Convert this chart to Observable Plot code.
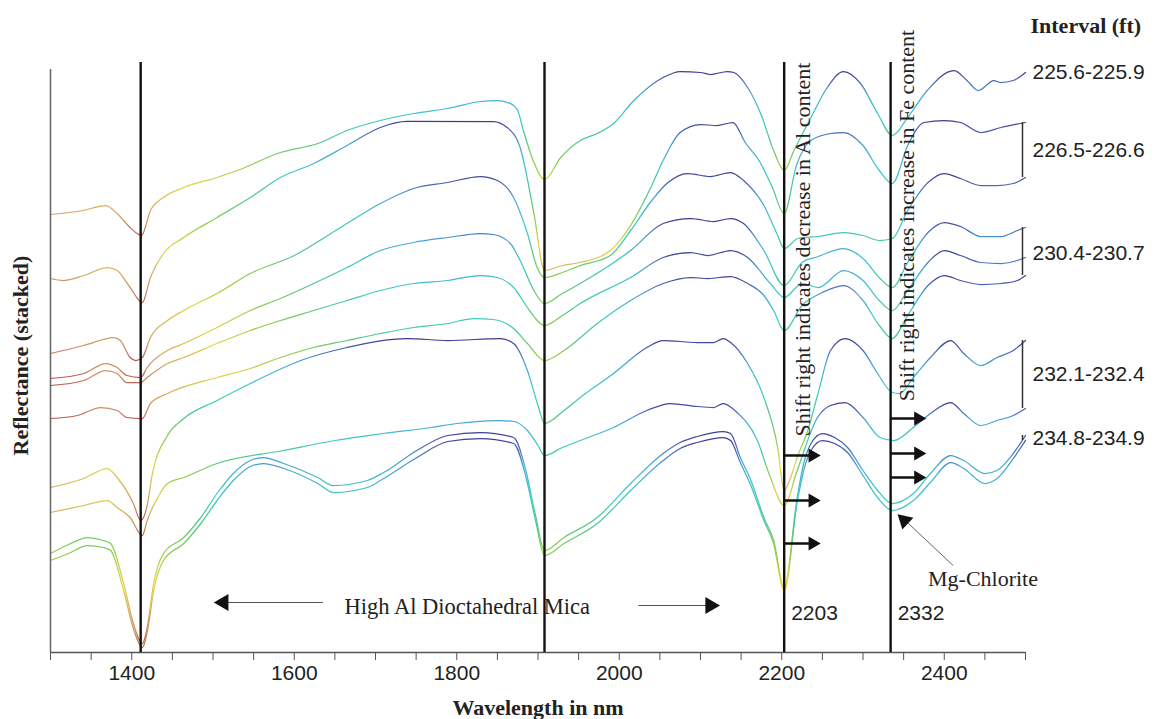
<!DOCTYPE html>
<html><head><meta charset="utf-8">
<script src="https://cdn.jsdelivr.net/npm/d3@7"></script>
<script src="https://cdn.jsdelivr.net/npm/@observablehq/plot@0.6"></script>
<style>body{margin:0;background:#fff}svg{display:block}</style>
</head><body><div id="chart"></div>
<script>
// ---- data: stacked reflectance spectra (wavelength nm, stacked reflectance) ----
const s225a = [[1300,.438],[1340,.442],[1368,.447],[1382,.439],[1398,.425],[1412,.417],[1423,.442],[1439,.455],[1464,.465],[1505,.475],[1530,.482],[1583,.500],[1629,.509],[1665,.522],[1706,.532],[1747,.539],[1789,.544],[1829,.551],[1850,.552],[1866,.549],[1875,.542],[1882,.522],[1894,.492],[1908,.473],[1928,.495],[1952,.512],[1973,.519],[1993,.529],[2018,.552],[2054,.575],[2075,.581],[2100,.580],[2112,.578],[2133,.581],[2141,.580],[2158,.565],[2175,.537],[2190,.502],[2203,.482],[2215,.502],[2236,.535],[2256,.565],[2276,.581],[2297,.569],[2318,.539],[2336,.517],[2355,.535],[2379,.562],[2412,.582],[2428,.572],[2442,.562],[2461,.572],[2469,.570],[2485,.572],[2500,.580]];
const s226a = [[1300,.374],[1316,.372],[1341,.377],[1370,.385],[1382,.382],[1398,.365],[1413,.350],[1423,.375],[1439,.399],[1464,.415],[1505,.435],[1546,.455],[1583,.475],[1624,.489],[1665,.507],[1706,.525],[1739,.531],[1845,.531],[1862,.525],[1878,.505],[1895,.439],[1908,.382],[1930,.387],[1952,.390],[1989,.402],[2014,.427],[2040,.467],[2054,.492],[2075,.520],[2100,.528],[2120,.527],[2140,.530],[2155,.510],[2172,.492],[2188,.466],[2203,.439],[2218,.487],[2236,.512],[2260,.519],[2276,.520],[2300,.507],[2320,.482],[2336,.469],[2355,.507],[2375,.530],[2400,.532],[2420,.530],[2445,.520],[2470,.525],[2500,.530]];
const s226b = [[1300,.299],[1341,.307],[1378,.315],[1386,.312],[1398,.295],[1405,.292],[1413,.295],[1423,.315],[1444,.332],[1464,.342],[1505,.359],[1546,.379],[1600,.397],[1657,.425],[1706,.449],[1747,.464],[1789,.470],[1829,.476],[1850,.472],[1870,.455],[1887,.419],[1899,.385],[1908,.375],[1930,.380],[1952,.387],[1989,.397],[2014,.422],[2040,.452],[2060,.470],[2084,.479],[2112,.476],[2137,.480],[2153,.472],[2178,.447],[2195,.417],[2203,.404],[2220,.414],[2245,.416],[2276,.420],[2300,.417],[2320,.412],[2336,.414],[2355,.442],[2380,.470],[2400,.479],[2420,.474],[2445,.467],[2465,.467],[2485,.469],[2500,.475]];
const s230a = [[1300,.274],[1341,.279],[1368,.289],[1382,.285],[1394,.277],[1411,.275],[1419,.285],[1444,.302],[1464,.309],[1505,.325],[1546,.342],[1583,.354],[1624,.369],[1665,.385],[1706,.402],[1747,.410],[1789,.415],[1829,.419],[1845,.418],[1866,.409],[1878,.392],[1895,.362],[1908,.349],[1930,.359],[1952,.369],[2014,.402],[2054,.429],[2088,.434],[2116,.431],[2137,.434],[2153,.429],[2178,.402],[2203,.367],[2225,.390],[2245,.396],[2276,.404],[2300,.394],[2320,.375],[2336,.365],[2355,.390],[2380,.420],[2400,.430],[2420,.426],[2445,.416],[2470,.416],[2490,.422],[2500,.425]];
const s230b = [[1300,.267],[1341,.272],[1368,.282],[1382,.279],[1394,.270],[1411,.270],[1419,.275],[1444,.289],[1464,.295],[1505,.309],[1546,.322],[1583,.332],[1624,.342],[1665,.352],[1706,.362],[1747,.369],[1789,.372],[1829,.377],[1850,.375],[1870,.365],[1887,.345],[1899,.332],[1908,.327],[1930,.337],[1952,.349],[2014,.375],[2054,.395],[2088,.400],[2109,.397],[2137,.402],[2158,.395],[2186,.369],[2203,.355],[2225,.369],[2245,.365],[2276,.382],[2300,.372],[2320,.352],[2336,.342],[2355,.362],[2380,.390],[2400,.402],[2420,.397],[2445,.390],[2470,.389],[2490,.392],[2500,.395]];
const s230c = [[1300,.234],[1333,.237],[1362,.245],[1382,.242],[1394,.235],[1413,.234],[1423,.249],[1444,.259],[1505,.275],[1546,.284],[1583,.295],[1624,.305],[1665,.312],[1706,.319],[1747,.325],[1789,.329],[1821,.334],[1845,.333],[1870,.324],[1887,.309],[1908,.292],[1932,.302],[1973,.329],[2014,.352],[2054,.369],[2088,.375],[2109,.374],[2137,.376],[2158,.369],[2178,.357],[2190,.342],[2203,.322],[2225,.347],[2250,.360],[2276,.367],[2300,.352],[2320,.327],[2336,.314],[2355,.337],[2380,.367],[2400,.377],[2420,.372],[2445,.368],[2470,.369],[2490,.372],[2500,.377]];
const s232a = [[1300,.165],[1341,.174],[1370,.184],[1382,.175],[1402,.149],[1411,.132],[1419,.147],[1425,.177],[1444,.217],[1464,.234],[1505,.252],[1546,.269],[1608,.292],[1665,.305],[1739,.314],[1789,.312],[1854,.314],[1870,.309],[1887,.282],[1900,.247],[1908,.229],[1932,.242],[1952,.255],[1993,.279],[2034,.305],[2054,.312],[2096,.310],[2116,.310],[2128,.314],[2137,.310],[2158,.289],[2178,.255],[2195,.205],[2203,.162],[2211,.175],[2219,.195],[2232,.222],[2244,.257],[2260,.302],[2278,.314],[2300,.302],[2318,.279],[2336,.260],[2345,.259],[2362,.275],[2383,.295],[2408,.312],[2424,.299],[2445,.287],[2465,.295],[2485,.302],[2500,.312]];
const s232b = [[1300,.140],[1341,.147],[1370,.152],[1382,.145],[1398,.135],[1413,.117],[1419,.132],[1432,.155],[1444,.169],[1464,.175],[1505,.189],[1587,.202],[1650,.212],[1710,.219],[1768,.225],[1800,.229],[1850,.232],[1870,.231],[1887,.222],[1900,.207],[1908,.197],[1930,.205],[1952,.212],[1993,.225],[2034,.242],[2063,.249],[2096,.246],[2116,.245],[2128,.249],[2145,.240],[2170,.212],[2186,.175],[2203,.147],[2219,.182],[2244,.235],[2260,.247],[2278,.250],[2300,.235],[2321,.215],[2338,.212],[2362,.225],[2383,.239],[2408,.250],[2424,.239],[2445,.227],[2465,.232],[2485,.237],[2500,.244]];
const s234a = [[1300,.099],[1325,.109],[1345,.115],[1365,.112],[1374,.109],[1390,.069],[1402,.029],[1413,.009],[1419,.025],[1427,.069],[1439,.099],[1464,.115],[1485,.135],[1505,.159],[1525,.179],[1546,.192],[1562,.195],[1587,.189],[1629,.175],[1648,.167],[1690,.172],[1710,.180],[1751,.202],[1789,.217],[1829,.220],[1870,.215],[1885,.182],[1897,.137],[1908,.102],[1932,.115],[1973,.135],[2014,.169],[2054,.199],[2075,.210],[2096,.216],[2128,.221],[2137,.219],[2149,.195],[2162,.172],[2178,.135],[2190,.112],[2203,.065],[2219,.155],[2227,.189],[2236,.209],[2250,.219],[2265,.215],[2281,.205],[2300,.182],[2318,.162],[2336,.149],[2362,.159],[2383,.179],[2408,.197],[2424,.192],[2450,.179],[2465,.182],[2485,.199],[2500,.217]];
const s234b = [[1300,.092],[1325,.100],[1345,.107],[1365,.105],[1374,.102],[1390,.062],[1402,.024],[1413,.005],[1419,.020],[1427,.062],[1439,.092],[1464,.109],[1485,.129],[1505,.152],[1525,.172],[1546,.186],[1562,.189],[1587,.184],[1629,.169],[1648,.160],[1690,.165],[1710,.174],[1751,.195],[1789,.211],[1829,.214],[1870,.209],[1885,.176],[1897,.132],[1908,.097],[1932,.109],[1973,.129],[2014,.162],[2054,.192],[2075,.204],[2096,.210],[2128,.215],[2137,.212],[2149,.190],[2162,.167],[2178,.132],[2190,.109],[2203,.062],[2219,.150],[2227,.182],[2236,.202],[2250,.212],[2265,.209],[2281,.200],[2300,.177],[2318,.155],[2336,.142],[2362,.152],[2383,.170],[2408,.190],[2424,.184],[2450,.169],[2465,.174],[2485,.194],[2500,.212]];

const spectra = [s225a, s226a, s226b, s230a, s230b, s230c, s232a, s232b, s234a, s234b];
const intervalLabels = ["225.6-225.9", "226.5-226.6", "230.4-230.7", "232.1-232.4", "234.8-234.9"];
const intervalOfSpectrum = [0, 1, 1, 2, 2, 2, 3, 3, 4, 4];
const featureWavelengths = [1411, 1908, 2203, 2334];
const featureLabels = ["2203", "2332"];
const xTickValues = d3.range(1300, 2501, 50);

// ---- derived tables ----
const endOf = s => s[s.length - 1][1];
const groups = intervalLabels.map((label, g) => {
  const ends = spectra.filter((s, i) => intervalOfSpectrum[i] === g).map(endOf);
  return {label, lo: d3.min(ends), hi: d3.max(ends), mid: d3.mean(ends), n: ends.length};
});

// colormap (by reflectance within each spectrum): low -> brown/orange/yellow/green/cyan -> dark blue
const cmap = [[0,"#b5544e"],[0.06,"#c88a62"],[0.16,"#d8aa5c"],[0.3,"#e0d646"],[0.45,"#8ccc4e"],[0.58,"#4ec890"],[0.71,"#3ccbc6"],[0.86,"#46a6d6"],[0.94,"#4a62b2"],[1,"#3c3a8e"]];

const serif = "Liberation Serif, Times New Roman, serif";
const sans = "Liberation Sans, Arial, sans-serif";

const chart = Plot.plot({
  width: 1157, height: 719,
  marginLeft: 50, marginRight: 132, marginTop: 52, marginBottom: 67,
  x: {domain: [1300, 2500], axis: null},
  y: {domain: [0, 0.6], axis: null},
  style: {background: "#fff", overflow: "visible"},
  marks: [
    // spectra
    ...spectra.map((s, i) => Plot.line(s, {x: d => d[0], y: d => d[1], stroke: `url(#specgrad${i})`, strokeWidth: 1.25, curve: "monotone-x"})),
    // axes
    Plot.ruleX([1300], {y1: 0, y2: 0.583, stroke: "#666", strokeWidth: 1.5}),
    Plot.ruleY([0], {stroke: "#555", strokeWidth: 1.5}),
    Plot.axisX({ticks: xTickValues, tickSize: 8, tickPadding: 5, tickFormat: d => (d % 200 === 0 ? String(d) : ""), fontSize: 21, fontFamily: sans, stroke: "#555", fill: "#222", label: null}),
    Plot.text(["Wavelength in nm"], {frameAnchor: "bottom", lineAnchor: "middle", dy: 55, fontSize: 22, fontWeight: "bold", fontFamily: serif, fill: "#222"}),
    Plot.text(["Reflectance (stacked)"], {frameAnchor: "left", textAnchor: "middle", lineAnchor: "middle", rotate: -90, dx: -30, dy: 3, fontSize: 22, fontWeight: "bold", fontFamily: serif, fill: "#222"}),
    // feature lines
    Plot.ruleX(featureWavelengths, {y1: 0, y2: 0.59, stroke: "#111", strokeWidth: 2.4}),
    // vertical annotations
    Plot.text(["Shift right indicates decrease in Al content"], {x: 2203, y: 0.403, dx: 19, rotate: -90, fontSize: 22, fontFamily: serif, fill: "#222"}),
    Plot.text(["Shift right indicates increase in Fe content"], {x: 2334, y: 0.437, dx: 16, rotate: -90, fontSize: 22, fontFamily: serif, fill: "#222"}),
    // shift arrows
    Plot.ruleY([0.197, 0.152, 0.109], {x1: 2203, x2: 2238, stroke: "#111", strokeWidth: 2.5}),
    Plot.dot([0.197, 0.152, 0.109], {x: 2238, y: d => d, symbol: "triangle", rotate: 90, r: 5.2, fill: "#111", stroke: "none"}),
    Plot.ruleY([0.234, 0.199, 0.175], {x1: 2334, x2: 2368, stroke: "#111", strokeWidth: 2.5}),
    Plot.dot([0.234, 0.199, 0.175], {x: 2368, y: d => d, symbol: "triangle", rotate: 90, r: 5.2, fill: "#111", stroke: "none"}),
    // feature labels
    Plot.text(featureLabels, {x: [2203, 2334], y: 0.039, dx: 7, textAnchor: "start", fontSize: 21, fontFamily: sans, fill: "#222"}),
    // High Al Dioctahedral Mica
    Plot.text(["High Al Dioctahedral Mica"], {x: 1813, y: 0.046, fontSize: 22.5, fontFamily: serif, fill: "#222"}),
    Plot.ruleY([0.050], {x1: 1516, x2: 1636, stroke: "#555", strokeWidth: 1.2}),
    Plot.dot([0.050], {x: 1513, y: d => d, symbol: "triangle", rotate: -90, r: 6.3, fill: "#111", stroke: "none"}),
    Plot.ruleY([0.047], {x1: 2024, x2: 2108, stroke: "#555", strokeWidth: 1.2}),
    Plot.dot([0.047], {x: 2112, y: d => d, symbol: "triangle", rotate: 90, r: 6.3, fill: "#111", stroke: "none"}),
    // Mg-Chlorite pointer
    Plot.text(["Mg-Chlorite"], {x: 2380, y: 0.074, textAnchor: "start", fontSize: 22, fontFamily: serif, fill: "#222"}),
    Plot.link([0], {x1: 2411, y1: 0.087, x2: 2352, y2: 0.132, stroke: "#666", strokeWidth: 1}),
    Plot.dot([0], {x: 2351, y: 0.132, symbol: "triangle", rotate: -47, r: 6, fill: "#111", stroke: "none"}),
    // interval labels and brackets
    Plot.text(["Interval (ft)"], {x: 2500, y: 0.627, dx: 5, textAnchor: "start", fontSize: 22, fontWeight: "bold", fontFamily: serif, fill: "#222"}),
    Plot.text(groups, {x: 2500, y: "mid", text: "label", dx: 7, textAnchor: "start", fontSize: 21, fontFamily: sans, fill: "#222"}),
    Plot.ruleX(groups.filter(g => g.n > 1), {x: 2500, y1: "lo", y2: "hi", stroke: "#333", strokeWidth: 1.5, dx: -3})
  ]
});

// gradient per spectrum: colour follows the reflectance within that spectrum
const ys = chart.scale("y");
const defs = d3.select(chart).insert("defs", ":first-child");
spectra.forEach((s, i) => {
  const vals = s.map(d => d[1]);
  const g = defs.append("linearGradient").attr("id", `specgrad${i}`)
    .attr("gradientUnits", "userSpaceOnUse")
    .attr("x1", 0).attr("x2", 0)
    .attr("y1", ys.apply(d3.min(vals))).attr("y2", ys.apply(d3.max(vals)));
  cmap.forEach(([o, c]) => g.append("stop").attr("offset", o).attr("stop-color", c));
});
document.getElementById("chart").append(chart);
</script>
</body></html>
